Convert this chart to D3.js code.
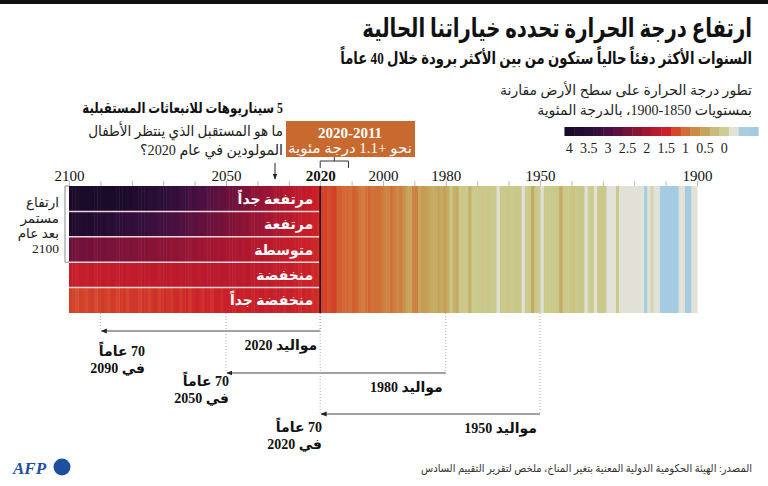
<!DOCTYPE html>
<html><head><meta charset="utf-8">
<script src="https://cdn.jsdelivr.net/npm/d3@7"></script>
<style>
html,body{margin:0;padding:0;background:#fff;}
svg{display:block;}
text{font-family:"Liberation Serif","DejaVu Sans",serif;}
</style></head>
<body><svg id="c" width="768" height="486"></svg>
<script>
// ---------- DATA ----------
const scenarios = ["مرتفعة جداً","مرتفعة","متوسطة","منخفضة","منخفضة جداً"];
const futureYears = d3.range(2021, 2101);
const histYears = d3.range(1901, 2021);
const histValues = [
 -0.3,-0.3,-0.65,-0.65,-0.3,-0.3,-0.65,-0.7,-0.7,-0.65,
 -0.7,-0.65,-0.3,-0.25,-0.1,-0.3,-0.65,-0.3,-0.3,-0.3,
 -0.25,-0.3,-0.3,-0.3,-0.25,0.05,-0.3,-0.3,-0.35,0.05,
 0.1,0.05,-0.3,0.05,0.0,-0.38,0.1,0.1,0.05,0.15,
 0.1,0.05,0.1,0.45,0.1,0.05,0.05,0.05,0.05,-0.38,
 0.05,0.1,0.45,0.05,0.05,-0.38,0.1,0.1,0.05,0.05,
 0.1,0.05,0.1,-0.38,0.05,0.05,0.1,0.05,0.1,0.1,
 0.05,0.05,0.4,0.05,0.1,0.05,0.45,0.4,0.1,0.45,
 0.55,0.45,0.5,0.45,0.45,0.5,0.55,0.6,0.5,0.85,
 0.8,0.5,0.55,0.7,0.85,0.75,0.85,1.0,0.8,0.8,
 0.9,1.0,1.0,0.95,1.05,1.0,0.85,0.9,1.05,1.1,
 1.0,1.05,1.05,1.1,1.1,1.3,1.25,1.2,1.3,1.3
];
// projected anomalies 2021..2100 per scenario
const veryHigh = [
 1.45,1.55,1.5,1.62,1.58,1.7,1.65,1.75,1.72,1.8,
 1.85,1.78,1.92,1.98,1.9,2.05,2.1,2.02,2.15,2.2,
 2.25,2.18,2.32,2.4,2.35,2.48,2.42,2.55,2.6,2.52,
 2.65,2.7,2.62,2.78,2.85,2.8,2.92,2.98,2.9,3.05,
 3.1,3.02,3.18,3.22,3.15,3.3,3.35,3.28,3.42,3.45,
 3.5,3.42,3.58,3.62,3.55,3.7,3.75,3.68,3.82,3.85,
 3.9,3.84,3.95,4.0,3.95,4.05,4.1,4.02,4.12,4.15,
 4.2,4.12,4.22,4.25,4.2,4.3,4.32,4.28,4.35,4.4];
const high = [
 1.42,1.5,1.48,1.58,1.55,1.62,1.6,1.7,1.66,1.74,
 1.78,1.72,1.85,1.9,1.84,1.96,2.0,1.94,2.05,2.1,
 2.12,2.06,2.18,2.24,2.2,2.3,2.28,2.36,2.4,2.34,
 2.45,2.5,2.44,2.56,2.6,2.55,2.66,2.7,2.64,2.76,
 2.8,2.74,2.86,2.9,2.84,2.96,3.0,2.95,3.06,3.1,
 3.12,3.06,3.18,3.22,3.16,3.28,3.3,3.25,3.36,3.4,
 3.42,3.36,3.48,3.5,3.46,3.56,3.6,3.54,3.64,3.66,
 3.7,3.64,3.74,3.78,3.72,3.82,3.85,3.8,3.88,3.92];
const intermediate = [
 1.42,1.46,1.44,1.5,1.48,1.54,1.52,1.58,1.55,1.6,
 1.62,1.58,1.66,1.68,1.64,1.72,1.74,1.7,1.76,1.78,
 1.8,1.75,1.82,1.85,1.8,1.88,1.86,1.9,1.92,1.88,
 1.94,1.97,1.92,2.0,2.02,1.98,2.05,2.06,2.02,2.1,
 2.12,2.06,2.14,2.16,2.12,2.2,2.2,2.15,2.24,2.25,
 2.26,2.2,2.28,2.3,2.25,2.32,2.34,2.28,2.36,2.36,
 2.38,2.32,2.4,2.4,2.35,2.42,2.44,2.38,2.45,2.46,
 2.46,2.4,2.48,2.5,2.44,2.5,2.52,2.46,2.54,2.55];
const low = [
 1.4,1.46,1.42,1.5,1.48,1.52,1.45,1.56,1.5,1.58,
 1.6,1.52,1.62,1.64,1.56,1.66,1.68,1.6,1.7,1.66,
 1.7,1.62,1.72,1.74,1.65,1.72,1.75,1.68,1.74,1.7,
 1.72,1.76,1.66,1.74,1.78,1.68,1.74,1.76,1.66,1.72,
 1.74,1.66,1.72,1.75,1.64,1.7,1.72,1.62,1.7,1.72,
 1.68,1.6,1.7,1.72,1.62,1.68,1.7,1.6,1.66,1.68,
 1.66,1.58,1.68,1.66,1.56,1.64,1.66,1.56,1.62,1.64,
 1.62,1.54,1.64,1.62,1.52,1.6,1.62,1.52,1.58,1.6];
const veryLow = [
 1.38,1.44,1.4,1.48,1.45,1.5,1.42,1.52,1.48,1.54,
 1.55,1.46,1.56,1.58,1.5,1.6,1.56,1.48,1.58,1.6,
 1.56,1.48,1.58,1.55,1.46,1.54,1.56,1.45,1.52,1.54,
 1.5,1.42,1.52,1.5,1.4,1.48,1.5,1.38,1.46,1.48,
 1.44,1.36,1.46,1.44,1.34,1.42,1.44,1.32,1.4,1.42,
 1.38,1.3,1.4,1.38,1.28,1.36,1.38,1.28,1.35,1.36,
 1.34,1.26,1.36,1.34,1.25,1.32,1.34,1.24,1.3,1.32,
 1.3,1.22,1.32,1.3,1.22,1.28,1.3,1.2,1.28,1.3];
const scenarioValues = [veryHigh, high, intermediate, low, veryLow];
const axisLabelYears = [2100, 2050, 2020, 2000, 1980, 1950, 1900];
const legendTicks = [4, 3.5, 3, 2.5, 2, 1.5, 1, 0.5, 0];
const legendSteps = d3.range(4, -0.8, -0.25);
const colorStops = [-0.75,-0.5,-0.4,-0.25,0,0.25,0.5,0.75,1,1.25,1.5,1.75,2,2.25,2.5,2.75,3,3.25,3.5,3.75,4];
const colorRange = ["#a4cbe2","#a8cde0","#e0e0d8","#e1e1d8","#cccd92","#c8bd78","#c4a55e","#cc8a45","#d26e38","#d4472b","#cb2029","#b81a2e","#a21632","#8a1436","#72123a","#5c1140","#471041","#370f3d","#2b0e37","#220c30","#1b0b2a"];
// births / 70-year arrows
const births = [
  {born:2020, at70:2090, label:"مواليد 2020", l1:"70 عاماً", l2:"في 2090"},
  {born:1980, at70:2050, label:"مواليد 1980", l1:"70 عاماً", l2:"في 2050"},
  {born:1950, at70:2020, label:"مواليد 1950", l1:"70 عاماً", l2:"في 2020"}
];
// layout of the arrow annotations (pixels)
const arrowLayout = [
  {ay:331, tx:145, ty:356},
  {ay:373, tx:229, ty:386},
  {ay:414, tx:322, ty:432}
];

// ---------- SCALES ----------
const svg = d3.select("#c");
const x = d3.scaleLinear().domain([2100, 1900]).range([69, 697]);
const rows = d3.scaleBand().domain(scenarios).range([186, 313]);
const color = d3.scaleLinear().domain(colorStops).range(colorRange).clamp(true);
const lx = d3.scaleLinear().domain([4, 0]).range([569.3, 724.3]);
const yTop = rows.range()[0], yBot = rows.range()[1];

svg.append("rect").attr("width",768).attr("height",486).attr("fill","#fff");
svg.append("rect").attr("width",768).attr("height",4).attr("fill","#111");

// ---------- helpers ----------
const rtl = (sel)=>sel.attr("direction","rtl").attr("text-anchor","start");
// horizontally scale a text (around its anchor) to a target width
function fit(sel, w){
  const n = sel.node(); const len = n.getComputedTextLength();
  if(!len) return sel;
  const k = w/len, x0 = +sel.attr("x"), y0 = +sel.attr("y");
  sel.attr("transform", `translate(${x0},${y0}) scale(${k},1) translate(${-x0},${-y0})`);
  return sel;
}

// ---------- TITLES ----------
fit(rtl(svg.append("text")).attr("x",752).attr("y",37).attr("font-size",26).attr("font-weight","bold").attr("fill","#111")
  .text("ارتفاع درجة الحرارة تحدده خياراتنا الحالية"), 390);
fit(rtl(svg.append("text")).attr("x",752).attr("y",64).attr("font-size",17).attr("font-weight","bold").attr("fill","#111")
  .text("السنوات الأكثر دفئاً حالياً ستكون من بين الأكثر برودة خلال 40 عاماً"), 412);

// legend text
rtl(svg.append("text")).attr("x",752).attr("y",95).attr("font-size",14).attr("fill","#222")
  .text("تطور درجة الحرارة على سطح الأرض مقارنة");
rtl(svg.append("text")).attr("x",752).attr("y",115).attr("font-size",14).attr("fill","#222")
  .text("بمستويات 1850-1900، بالدرجة المئوية");
svg.append("g").selectAll("rect").data(legendSteps).join("rect")
  .attr("x", d=>lx(d+0.125)).attr("width", d=>lx(d-0.125)-lx(d+0.125)+0.4)
  .attr("y",127).attr("height",9).attr("fill", d=>color(d));
svg.append("g").selectAll("text").data(legendTicks).join("text")
  .attr("x", d=>lx(d)).attr("y",153).attr("text-anchor","middle").attr("font-size",14).attr("fill","#222")
  .text(d=>d);

// ---------- STRIPES ----------
const gS = svg.append("g");
gS.selectAll("rect.h").data(histYears).join("rect").attr("class","h")
  .attr("x", d=>x(d)).attr("width", d=>x(d-1)-x(d)+0.5)
  .attr("y", yTop).attr("height", yBot-yTop)
  .attr("fill", (d,i)=>color(histValues[i]));
scenarios.forEach((s, si)=>{
  gS.append("g").selectAll("rect").data(futureYears).join("rect")
    .attr("x", d=>x(d)).attr("width", d=>x(d-1)-x(d)+0.5)
    .attr("y", rows(s)).attr("height", rows.bandwidth())
    .attr("fill", (d,i)=>color(scenarioValues[si][i]));
});
// row separators
svg.append("g").selectAll("line").data(scenarios.slice(1)).join("line")
  .attr("x1", x(2100)).attr("x2", x(2020)-1).attr("y1", d=>rows(d)).attr("y2", d=>rows(d))
  .attr("stroke","#f2d4d6").attr("stroke-width",1.5);
// 2020 line
svg.append("line").attr("x1",x(2020)).attr("x2",x(2020)).attr("y1",yTop).attr("y2",yBot)
  .attr("stroke","#2a0808").attr("stroke-width",1.6);
// scenario labels
svg.append("g").selectAll("text").data(scenarios).join("text")
  .attr("direction","rtl").attr("text-anchor","start")
  .attr("x", x(2020)-7).attr("y", d=>rows(d)+rows.bandwidth()/2+5)
  .attr("font-size",14).attr("font-weight","bold").attr("fill","#fff").text(d=>d);

// ---------- AXIS ----------
const minor = svg.append("g").attr("transform",`translate(0,${yTop})`)
  .call(d3.axisTop(x).tickValues(d3.range(2100,1899,-10)).tickSize(5).tickFormat(""));
minor.select(".domain").remove();
minor.selectAll("line").attr("stroke","#bbb");
const major = svg.append("g").attr("transform",`translate(0,${yTop})`)
  .call(d3.axisTop(x).tickValues(axisLabelYears).tickSize(0).tickPadding(5).tickFormat(d3.format("d")));
major.select(".domain").remove();
major.selectAll("text").attr("font-size",15).attr("fill","#111")
  .attr("font-family","'Liberation Serif',serif")
  .attr("font-weight", d=>d===2020?"bold":"normal");

// left bracket
svg.append("path").attr("d",`M69,${yTop}H65V${rows("متوسطة")+rows.bandwidth()}H69`)
  .attr("fill","none").attr("stroke","#888").attr("stroke-width",1);
const bl = ["ارتفاع","مستمر","بعد عام","2100"];
const blY = [207, 223, 238, 253];
svg.append("g").selectAll("text").data(bl).join("text")
  .attr("direction","rtl").attr("text-anchor","start").attr("x",59)
  .attr("y",(d,i)=>blY[i]).attr("font-size",13.5).attr("fill","#222").text(d=>d);

// scenario intro text
fit(rtl(svg.append("text")).attr("x",283).attr("y",113).attr("font-size",15).attr("font-weight","bold").attr("fill","#111")
  .text("5 سيناريوهات للانبعاثات المستقبلية"), 201);
fit(rtl(svg.append("text")).attr("x",283).attr("y",136).attr("font-size",15).attr("fill","#222")
  .text("ما هو المستقبل الذي ينتظر الأطفال"), 195);
fit(rtl(svg.append("text")).attr("x",283).attr("y",155).attr("font-size",15).attr("fill","#222")
  .text("المولودين في عام 2020؟"), 143);
// arrow down
const defs = svg.append("defs");
defs.append("marker").attr("id","ah").attr("viewBox","0 0 10 10").attr("refX",9).attr("refY",5)
  .attr("markerWidth",6).attr("markerHeight",6).attr("orient","auto-start-reverse")
  .append("path").attr("d","M0,1L10,5L0,9Z").attr("fill","#222");
svg.append("line").attr("x1",275).attr("x2",275).attr("y1",163).attr("y2",179)
  .attr("stroke","#222").attr("stroke-width",1).attr("marker-end","url(#ah)");

// 2011-2020 box
svg.append("rect").attr("x",286).attr("y",121).attr("width",129).attr("height",36).attr("fill","#c8692f");
svg.append("text").attr("x",350).attr("y",138).attr("text-anchor","middle").attr("font-size",15).attr("font-weight","bold").attr("fill","#fff")
  .text("2020-2011");
fit(svg.append("text").attr("direction","rtl").attr("x",350).attr("y",153).attr("text-anchor","middle").attr("font-size",14).attr("fill","#fff")
  .text("نحو +1.1 درجة مئوية"), 124);
svg.append("path").attr("d",`M${x(2020)},168V161H${x(2011)}V168M${(x(2020)+x(2011))/2},161V157`)
  .attr("fill","none").attr("stroke","#333").attr("stroke-width",1);

// ---------- BIRTH ARROWS ----------
const gA = svg.append("g");
births.forEach((b,i)=>{
  const L = arrowLayout[i], ay = L.ay;
  gA.append("line").attr("x1",x(b.born)).attr("x2",x(b.born)).attr("y1",yBot).attr("y2",ay)
    .attr("stroke","#aaa").attr("stroke-dasharray","1,2");
  gA.append("line").attr("x1",x(b.at70)).attr("x2",x(b.at70)).attr("y1",yBot).attr("y2",ay)
    .attr("stroke","#aaa").attr("stroke-dasharray","1,2");
  gA.append("line").attr("x1",x(b.born)).attr("x2",x(b.at70)+1).attr("y1",ay).attr("y2",ay)
    .attr("stroke","#444").attr("stroke-width",1).attr("marker-end","url(#ah)");
  gA.append("text").attr("direction","rtl").attr("text-anchor","start").attr("x",x(b.born)-3).attr("y",ay+19)
    .attr("font-size",14).attr("font-weight","bold").attr("fill","#111").text(b.label);
  gA.append("text").attr("direction","rtl").attr("text-anchor","start").attr("x",L.tx).attr("y",L.ty)
    .attr("font-size",14).attr("font-weight","bold").attr("fill","#111").text(b.l1);
  gA.append("text").attr("direction","rtl").attr("text-anchor","start").attr("x",L.tx).attr("y",L.ty+16.5)
    .attr("font-size",14).attr("font-weight","bold").attr("fill","#111").text(b.l2);
});

// ---------- FOOTER ----------
svg.append("text").attr("x",13).attr("y",474).attr("font-family","'Liberation Sans',sans-serif")
  .attr("font-size",17).attr("font-weight","bold").attr("font-style","italic").attr("fill","#1d4f9f").text("AFP");
svg.append("circle").attr("cx",62).attr("cy",467).attr("r",8.5).attr("fill","#1d4f9f");
fit(rtl(svg.append("text")).attr("x",752).attr("y",472).attr("font-size",11).attr("fill","#333")
  .text("المصدر: الهيئة الحكومية الدولية المعنية بتغير المناخ، ملخص لتقرير التقييم السادس"), 331);
</script></body></html>
